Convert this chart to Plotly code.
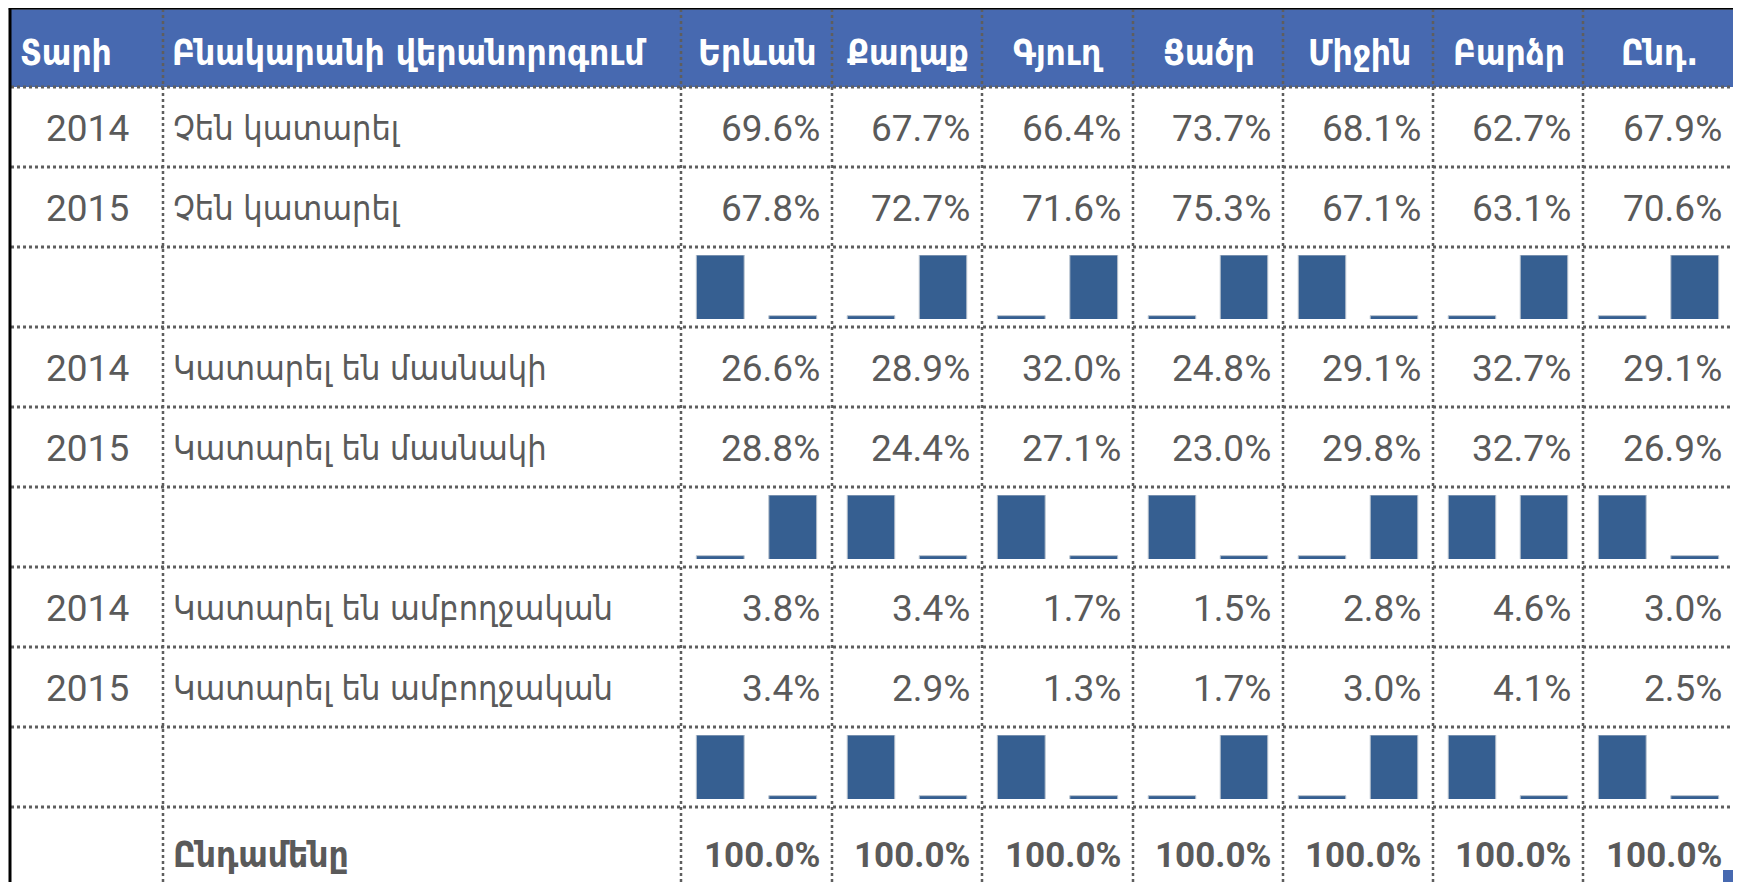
import plotly.graph_objects as go

# ---------------- data ----------------
header_labels = ["Տարի", "Բնակարանի վերանորոգում", "Երևան", "Քաղաք", "Գյուղ", "Ցածր", "Միջին", "Բարձր", "Ընդ."]
years = ["2014", "2015"]
categories = ["Չեն կատարել", "Կատարել են մասնակի", "Կատարել են ամբողջական"]
not_done_2014 = [69.6, 67.7, 66.4, 73.7, 68.1, 62.7, 67.9]
not_done_2015 = [67.8, 72.7, 71.6, 75.3, 67.1, 63.1, 70.6]
partial_2014 = [26.6, 28.9, 32.0, 24.8, 29.1, 32.7, 29.1]
partial_2015 = [28.8, 24.4, 27.1, 23.0, 29.8, 32.7, 26.9]
full_2014 = [3.8, 3.4, 1.7, 1.5, 2.8, 4.6, 3.0]
full_2015 = [3.4, 2.9, 1.3, 1.7, 3.0, 4.1, 2.5]
total_label = "Ընդամենը"
totals = [100.0, 100.0, 100.0, 100.0, 100.0, 100.0, 100.0]

series = [(not_done_2014, not_done_2015), (partial_2014, partial_2015), (full_2014, full_2015)]

# ---------------- layout geometry (window pixels) ----------------
OFF = 8  # default page margin of the html body
WIN_W, WIN_H = 1741, 882
W, H = WIN_W - OFF, WIN_H - OFF
col_edges = [11, 163, 681, 832, 982, 1133, 1283, 1433, 1583, 1734]
top = 9
header_bottom = 87
row_h = 80

ARM = "DejaVu Sans Condensed, DejaVu Sans"
NUM = "Roboto, DejaVu Sans Condensed"
TXT = "#5A5A5A"
HEAD_BG = "#4769B0"
BAR = "#365F91"
GRID = "#5E5E5E"


def px(x):
    return (x - OFF) / W


def py(y):
    return 1 - (y - OFF) / H


fig = go.Figure()
shapes = []
annotations = []

# header background
shapes.append(dict(type="rect", xref="paper", yref="paper", x0=px(col_edges[0]), x1=px(col_edges[-1]),
                   y0=py(header_bottom), y1=py(top), fillcolor=HEAD_BG, line=dict(width=0), layer="below"))

# header text
for i, lab in enumerate(header_labels):
    x0, x1 = col_edges[i], col_edges[i + 1]
    if i < 2:
        ax, xa = x0 + 7, "left"
    else:
        ax, xa = (x0 + x1) / 2 + 1, "center"
    annotations.append(dict(x=px(ax), y=py((top + header_bottom) / 2 + 5), xref="paper", yref="paper",
                            text=f"<b>{lab}</b>", showarrow=False, xanchor=xa, yanchor="middle",
                            font=dict(family=ARM, size=35, color="white")))

# body rows
row = 0
ax_idx = 0
for c, cat in enumerate(categories):
    vals = series[c]
    for k, yr in enumerate(years):
        y0 = header_bottom + row * row_h
        yc = y0 + row_h / 2 + 1
        annotations.append(dict(x=px((col_edges[0] + col_edges[1]) / 2), y=py(yc), xref="paper", yref="paper",
                                text=yr, showarrow=False, xanchor="center", yanchor="middle",
                                font=dict(family=NUM, size=37, color=TXT)))
        annotations.append(dict(x=px(col_edges[1] + 8), y=py(yc), xref="paper", yref="paper",
                                text=cat, showarrow=False, xanchor="left", yanchor="middle",
                                font=dict(family=ARM, size=34, color=TXT)))
        for j, v in enumerate(vals[k]):
            annotations.append(dict(x=px(col_edges[j + 3] - 10), y=py(yc), xref="paper", yref="paper",
                                    text=f"{v:.1f}%", showarrow=False, xanchor="right", yanchor="middle",
                                    font=dict(family=NUM, size=37, color=TXT)))
        row += 1
    # sparkline row
    y0 = header_bottom + row * row_h
    for j in range(7):
        ax_idx += 1
        a, b = vals[0][j], vals[1][j]
        lo, hi = min(a, b), max(a, b)
        pad = (hi - lo) * 0.055 if hi > lo else 1.0
        xn = "x" if ax_idx == 1 else f"x{ax_idx}"
        yn = "y" if ax_idx == 1 else f"y{ax_idx}"
        fig.add_trace(go.Bar(x=[0, 1], y=[a, b], xaxis=xn, yaxis=yn, width=0.66,
                             marker=dict(color=BAR, line=dict(color="#B8C2CE", width=1)),
                             hoverinfo="skip", showlegend=False))
        xk = "xaxis" if ax_idx == 1 else f"xaxis{ax_idx}"
        yk = "yaxis" if ax_idx == 1 else f"yaxis{ax_idx}"
        fig.update_layout(**{
            xk: dict(domain=[px(col_edges[j + 2] + 3), px(col_edges[j + 3] - 3)], range=[-0.5, 1.5],
                     visible=False, fixedrange=True, anchor=yn),
            yk: dict(domain=[py(y0 + row_h - 8), py(y0 + 8)], range=[lo - pad, hi],
                     visible=False, fixedrange=True, anchor=xn),
        })
    row += 1

# totals row
y0 = header_bottom + row * row_h
yc = y0 + 48
annotations.append(dict(x=px(col_edges[1] + 8), y=py(yc), xref="paper", yref="paper",
                        text=f"<b>{total_label}</b>", showarrow=False, xanchor="left", yanchor="middle",
                        font=dict(family=ARM, size=35, color=TXT)))
for j, v in enumerate(totals):
    annotations.append(dict(x=px(col_edges[j + 3] - 10), y=py(yc), xref="paper", yref="paper",
                            text=f"<b>{v:.1f}%</b>", showarrow=False, xanchor="right", yanchor="middle",
                            font=dict(family=NUM, size=35, color=TXT)))

# grid lines (dotted)
n_rows = row + 1
for r in range(n_rows):
    yy = header_bottom + r * row_h
    shapes.append(dict(type="line", xref="paper", yref="paper", x0=px(col_edges[0]), x1=px(col_edges[-1]),
                       y0=py(yy), y1=py(yy), line=dict(color=GRID, width=3, dash="dot")))
for xx in col_edges[1:-1]:
    shapes.append(dict(type="line", xref="paper", yref="paper", x0=px(xx), x1=px(xx),
                       y0=py(top), y1=py(WIN_H), line=dict(color=GRID, width=2.5, dash="dot")))

# outer border
shapes.append(dict(type="line", xref="paper", yref="paper", x0=px(OFF), x1=px(WIN_W), y0=py(OFF + 1), y1=py(OFF + 1),
                   line=dict(color="#9A9A9A", width=1)))
shapes.append(dict(type="line", xref="paper", yref="paper", x0=px(col_edges[0] - 1), x1=px(col_edges[-1] + 1),
                   y0=py(top - 1), y1=py(top - 1), line=dict(color="black", width=3)))
shapes.append(dict(type="line", xref="paper", yref="paper", x0=px(col_edges[0] - 1), x1=px(col_edges[0] - 1),
                   y0=py(top - 2), y1=py(WIN_H), line=dict(color="black", width=3)))
shapes.append(dict(type="line", xref="paper", yref="paper", x0=px(col_edges[-1] + 1), x1=px(col_edges[-1] + 1),
                   y0=py(top - 2), y1=py(WIN_H), line=dict(color="black", width=3)))
# small resize handle
shapes.append(dict(type="rect", xref="paper", yref="paper", x0=px(1723), x1=px(1735), y0=py(WIN_H), y1=py(870),
                   fillcolor="#4769B0", line=dict(width=0)))

fig.update_layout(width=W, height=H, margin=dict(l=0, r=0, t=0, b=0),
                  paper_bgcolor="white", plot_bgcolor="rgba(0,0,0,0)",
                  shapes=shapes, annotations=annotations, barmode="group", showlegend=False)

fig.write_html("out.html", config={"displayModeBar": False})
